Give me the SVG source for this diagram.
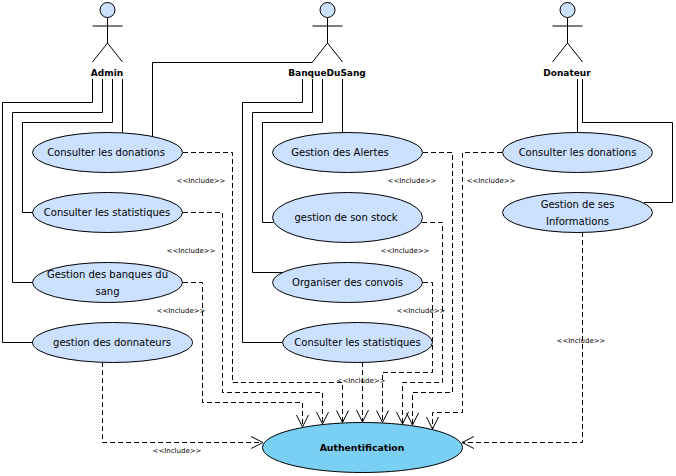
<svg xmlns="http://www.w3.org/2000/svg" width="676" height="476" viewBox="0 0 676 476">
<defs>
<marker id="open" markerUnits="userSpaceOnUse" markerWidth="24" markerHeight="24" refX="20" refY="12" orient="auto" viewBox="0 0 24 24"><path d="M8 6L20 12L8 18" fill="none" stroke="#000" stroke-width="1"/></marker>
<g id="stick"><circle cx="0" cy="10" r="7.500" fill="#CCE0FF" stroke="#000"/><path d="M0 18V43M-15 26H15M-15 62L0 43L15 62" fill="none" stroke="#000"/></g>
</defs>
<style>
text{font-family:"DejaVu Sans","Liberation Sans",sans-serif;fill:#000;text-anchor:middle}
.uc{fill:#CCE0FF;stroke:#000;stroke-width:1}
.t{font-size:10px}
.a{font-size:9px;font-weight:bold}
.b{font-size:9.300px;font-weight:bold}
.inc{font-size:7px}
.line{fill:none;stroke:#000;stroke-width:1}
.dasha{fill:none;stroke:#000;stroke-width:1;stroke-dasharray:5 3;marker-end:url(#open)}
</style>
<rect width="676" height="476" fill="#fff"/>
<g id="connectors">
<path class="line" d="M92.500 79V102.500H2.500V342.500H33"/>
<path class="line" d="M102.500 79V112.500H12.500V282.500H33"/>
<path class="line" d="M112.500 79V122.500H22.500V212.500H33"/>
<path class="line" d="M122.500 79V132.500"/>
<path class="line" d="M152.500 139V62.500H312.500"/>
<path class="line" d="M302.500 79V102.500H242.500V342.500H283"/>
<path class="line" d="M312.500 79V112.500H252.500V272.500H285"/>
<path class="line" d="M322.500 79V122.500H262.500V222.500H273"/>
<path class="line" d="M342.500 79V132.500"/>
<path class="line" d="M577.500 79V132.500"/>
<path class="line" d="M582.500 79V122.500H672.500V202.500H644"/>
<path class="dasha" d="M183 152.500H232.500V382.500H342.500V422.500"/>
<path class="dasha" d="M183 212.500H222.500V392.500H322.500V424"/>
<path class="dasha" d="M183 282.500H202.500V402.500H302.500V427"/>
<path class="dasha" d="M102.500 362V442.500H263"/>
<path class="dasha" d="M362.500 362V422"/>
<path class="dasha" d="M423 282.500H432.500V372.500H382.500V422.500"/>
<path class="dasha" d="M422 222.500H442.500V382.500H402.500V424"/>
<path class="dasha" d="M415 152.500H452.500V392.500H412.500V425"/>
<path class="dasha" d="M502 152.500H462.500V412.500H432.500V429"/>
<path class="dasha" d="M582.500 232V442.500H462"/>
<text class="inc" x="201" y="182.500">&lt;&lt;Include&gt;&gt;</text>
<text class="inc" x="191" y="252.500">&lt;&lt;Include&gt;&gt;</text>
<text class="inc" x="181" y="312.500">&lt;&lt;Include&gt;&gt;</text>
<text class="inc" x="412" y="182.500">&lt;&lt;Include&gt;&gt;</text>
<text class="inc" x="405" y="252.500">&lt;&lt;Include&gt;&gt;</text>
<text class="inc" x="421" y="312.500">&lt;&lt;Include&gt;&gt;</text>
<text class="inc" x="361" y="382.500">&lt;&lt;Include&gt;&gt;</text>
<text class="inc" x="491" y="182.500">&lt;&lt;Include&gt;&gt;</text>
<text class="inc" x="581" y="342.500">&lt;&lt;Include&gt;&gt;</text>
<text class="inc" x="177" y="452.500">&lt;&lt;Include&gt;&gt;</text>
</g>
<g id="actor-admin"><use href="#stick" x="107.500"/><text class="a" x="107" y="75.500">Admin</text></g>
<g id="actor-banque"><use href="#stick" x="327.500"/><text class="a" x="327" y="75.500">BanqueDuSang</text></g>
<g id="actor-donateur"><use href="#stick" x="567.500"/><text class="a" x="567" y="75.500">Donateur</text></g>
<g id="uc1"><ellipse class="uc" cx="107.500" cy="152.500" rx="75" ry="20"/><text class="t" x="106" y="156">Consulter les donations</text></g>
<g id="uc2"><ellipse class="uc" cx="107.500" cy="212.500" rx="75" ry="20"/><text class="t" x="107" y="216">Consulter les statistiques</text></g>
<g id="uc3"><ellipse class="uc" cx="107.500" cy="282.500" rx="75" ry="20"/><text class="t" x="107.500" y="278">Gestion des banques du</text><text class="t" x="107.500" y="295">sang</text></g>
<g id="uc4"><ellipse class="uc" cx="112.500" cy="342.500" rx="80" ry="20"/><text class="t" x="112" y="346">gestion des donnateurs</text></g>
<g id="uc5"><ellipse class="uc" cx="347.500" cy="152.500" rx="75" ry="20"/><text class="t" x="340" y="156">Gestion des Alertes</text></g>
<g id="uc6"><ellipse class="uc" cx="347.500" cy="217.500" rx="75" ry="25"/><text class="t" x="346" y="221">gestion de son stock</text></g>
<g id="uc7"><ellipse class="uc" cx="347.500" cy="282.500" rx="75" ry="20"/><text class="t" x="347.500" y="286">Organiser des convois</text></g>
<g id="uc8"><ellipse class="uc" cx="357.500" cy="342.500" rx="75" ry="20"/><text class="t" x="357.500" y="346">Consulter les statistiques</text></g>
<g id="uc9"><ellipse class="uc" cx="577.500" cy="152.500" rx="75" ry="20"/><text class="t" x="577.500" y="156">Consulter les donations</text></g>
<g id="uc10"><ellipse class="uc" cx="577.500" cy="212.500" rx="75" ry="20"/><text class="t" x="577.500" y="208">Gestion de ses</text><text class="t" x="577.500" y="225">Informations</text></g>
<g id="uc11"><ellipse cx="362.500" cy="447.500" rx="100" ry="25" fill="#7ACFF5" stroke="#000"/><text class="b" x="362" y="451">Authentification</text></g>
</svg>
